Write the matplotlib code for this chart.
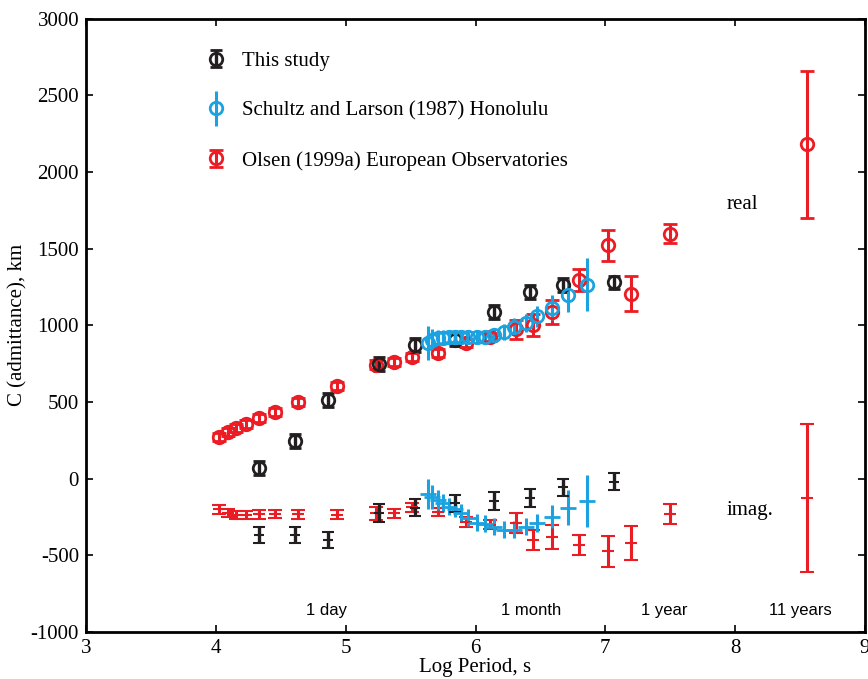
import matplotlib
matplotlib.use('Agg')
import matplotlib.pyplot as plt
from matplotlib.legend_handler import HandlerErrorbar

plt.rcParams['font.family'] = ['Liberation Serif', 'DejaVu Serif']
plt.rcParams['axes.unicode_minus'] = False

black = '#231f20'
blue = '#1aa3e0'
red = '#ec1c24'

# this study
black_x = [4.33, 4.61, 4.86, 5.26, 5.535, 5.84, 6.14, 6.42, 6.67, 7.07]
black_re = [70, 245, 514, 749, 873, 903, 1086, 1217, 1262, 1280]
black_re_err = [48, 45, 45, 45, 45, 40, 45, 45, 45, 42]
black_im = [-367, -367, -400, -225, -190, -160, -146, -127, -55, -21]
black_im_err = [52, 52, 52, 58, 55, 55, 58, 60, 55, 55]

# Schultz and Larson (1987), Honolulu
blue_x = [5.635, 5.666, 5.712, 5.75, 5.797, 5.843, 5.889, 5.943, 6.01, 6.07,
          6.14, 6.22, 6.30, 6.39, 6.47, 6.59, 6.71, 6.86]
blue_re = [885, 905, 915, 920, 922, 923, 924, 925, 925, 926,
           935, 957, 990, 1014, 1058, 1115, 1195, 1265]
blue_re_err = [110, 70, 55, 50, 45, 45, 45, 45, 45, 45,
               45, 50, 55, 60, 68, 80, 109, 174]
blue_im = [-100, -119, -139, -158, -184, -197, -223, -256, -288, -295,
           -314, -334, -334, -314, -288, -249, -190, -145]
blue_im_err = [100, 76, 65, 60, 55, 55, 55, 55, 55, 55,
               55, 55, 55, 55, 60, 76, 115, 172]

# Olsen (1999a), European observatories
red_x = [4.025, 4.09, 4.155, 4.23, 4.33, 4.455, 4.63, 4.93, 5.235, 5.37, 5.51,
         5.71, 5.93, 6.11, 6.31, 6.44, 6.59, 6.80, 7.02, 7.20, 7.50, 8.55]
red_re = [271, 305, 330, 357, 396, 436, 501, 606, 742, 762, 793,
          819, 886, 925, 975, 1000, 1086, 1296, 1522, 1205, 1597, 2180]
red_re_err = [25, 25, 25, 25, 25, 25, 25, 25, 30, 25, 25,
              25, 25, 25, 62, 72, 76, 70, 100, 115, 62, 480]
red_im = [-199, -225, -238, -238, -232, -232, -232, -235, -225, -225, -187,
          -218, -283, -300, -290, -400, -380, -433, -475, -420, -233, -125]
red_im_err = [30, 28, 25, 25, 28, 25, 28, 28, 43, 30, 30,
              28, 30, 30, 65, 65, 76, 68, 100, 113, 65, 483]

period_labels = ['1 day', '1 month', '1 year', '11 years']
period_x = [4.85, 6.43, 7.45, 8.5]

fig = plt.figure(figsize=(8.68, 6.79), dpi=100)
ax = fig.add_axes([0.0991, 0.0692, 0.8975, 0.9035])

# imaginary parts: horizontal dash with error bar
ax.errorbar(red_x, red_im, yerr=red_im_err, fmt='_', color=red, ms=9, mew=1.5,
            elinewidth=2.2, capsize=5, capthick=2.2)
ax.errorbar(blue_x, blue_im, yerr=blue_im_err, fmt='_', color=blue, ms=11, mew=2,
            elinewidth=2.2, capsize=0)
ax.errorbar(black_x, black_im, yerr=black_im_err, fmt='_', color=black, ms=7, mew=1.5,
            elinewidth=2.4, capsize=4, capthick=2.4)

# real parts: open circles
h_red = ax.errorbar(red_x, red_re, yerr=red_re_err, fmt='o', mfc='none', mec=red,
                    color=red, ms=9, mew=2, elinewidth=2.2, capsize=5, capthick=2.2)
h_black = ax.errorbar(black_x, black_re, yerr=black_re_err, fmt='o', mfc='none', mec=black,
                      color=black, ms=9, mew=2, elinewidth=2.4, capsize=4, capthick=2.4)
h_blue = ax.errorbar(blue_x, blue_re, yerr=blue_re_err, fmt='o', mfc='none', mec=blue,
                     color=blue, ms=9, mew=2, elinewidth=2.2, capsize=0)

ax.legend([h_black, h_blue, h_red],
          ['This study', 'Schultz and Larson (1987) Honolulu',
           'Olsen (1999a) European Observatories'],
          handler_map={h_black: HandlerErrorbar(yerr_size=0.4),
                       h_blue: HandlerErrorbar(yerr_size=0.85),
                       h_red: HandlerErrorbar(yerr_size=0.42)},
          loc='upper left', bbox_to_anchor=(0.1335, 0.977), frameon=False,
          fontsize=15, labelspacing=1.45, handlelength=0.7, handletextpad=0.9)

ax.text(7.93, 1785, 'real', fontsize=15, va='center', ha='left')
ax.text(7.93, -205, 'imag.', fontsize=15, va='center', ha='left')
for lab, px in zip(period_labels, period_x):
    ax.text(px, -860, lab, fontsize=12, ha='center', va='center',
            family=['Liberation Sans', 'DejaVu Sans'])

ax.set_xlim(3, 9)
ax.set_ylim(-1000, 3000)
ax.set_xticks(range(3, 10))
ax.set_yticks(range(-1000, 3001, 500))
ax.tick_params(direction='in', top=True, right=True, length=5, width=1.2,
               labelsize=15, pad=5)
for s in ax.spines.values():
    s.set_linewidth(2)
ax.set_xlabel('Log Period, s', fontsize=15, labelpad=0)
ax.set_ylabel('C (admittance), km', fontsize=15, labelpad=2)

fig.savefig('out.png', dpi=100)
